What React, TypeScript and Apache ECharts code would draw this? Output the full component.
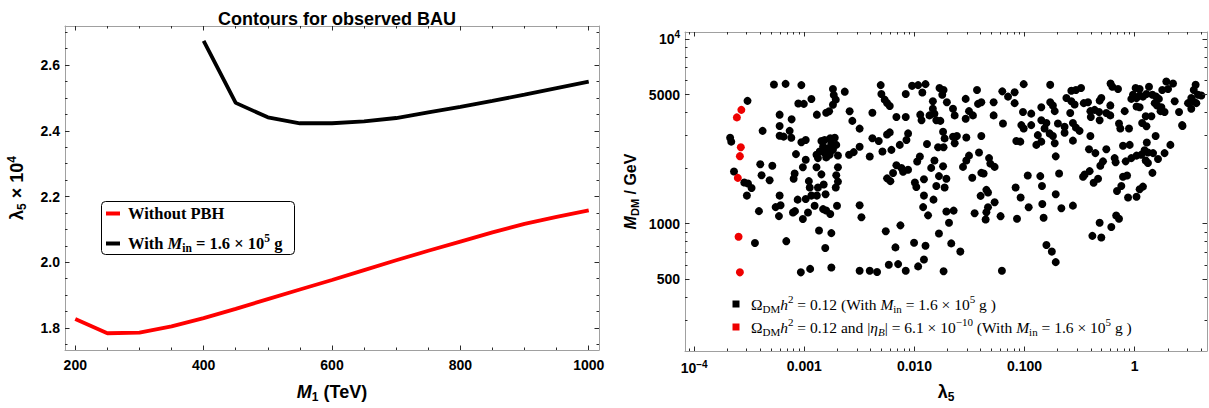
import React, { useEffect, useRef } from "react";
import * as echarts from "echarts";

const SANS = "'Liberation Sans', Arial, Helvetica, sans-serif";
const SERIF = "'Liberation Serif', 'Times New Roman', serif";
const FRAME = "#a0a0a0";
const TICK = "#2a2a2a";

// ---------- Left panel data ----------
const m1NoPBH = [200, 250, 300, 350, 400, 450, 500, 550, 600, 650, 700, 750, 800, 850, 900, 950, 1000];
const lambda5NoPBH = [1.827, 1.784, 1.786, 1.805, 1.83, 1.858, 1.888, 1.917, 1.946, 1.976, 2.006, 2.035, 2.063, 2.091, 2.117, 2.138, 2.158];
const m1PBH = [400, 450, 500, 550, 600, 650, 700, 750, 800, 850, 900, 950, 1000];
const lambda5PBH = [2.674, 2.485, 2.441, 2.423, 2.423, 2.429, 2.439, 2.456, 2.473, 2.491, 2.51, 2.53, 2.55];

const leftXMajor = [200, 400, 600, 800, 1000];
const leftXMinor = [250, 300, 350, 450, 500, 550, 650, 700, 750, 850, 900, 950];
const leftYMajor = [1.8, 2.0, 2.2, 2.4, 2.6];
const leftYMinor = [1.75, 1.85, 1.9, 1.95, 2.05, 2.1, 2.15, 2.25, 2.3, 2.35, 2.45, 2.5, 2.55, 2.65, 2.7];

// ---------- Right panel data: [lambda5, M_DM (GeV)] ----------
const redPoints: [number, number][] = [
  [2.68e-4, 4130], [2.44e-4, 3760], [2.65e-4, 2590], [2.6e-4, 2320], [2.49e-4, 1770], [2.53e-4, 850], [2.6e-4, 546],
];

const blackLambdaBelow1e3: [number, number][] = [
  [5.3e-4, 5660], [6.76e-4, 5710], [8.82e-4, 4470], [3.05e-4, 4620], [5.97e-4, 3890], [7.67e-4, 3670], [5.97e-4, 3380],
  [4.18e-4, 3180], [7.36e-4, 3180], [5.97e-4, 2990], [6.49e-4, 2960], [7.62e-4, 2920], [2.12e-4, 2920], [2.17e-4, 2780],
  [8.4e-4, 2380], [3.98e-4, 2100], [5.12e-4, 2060], [2.3e-4, 1915], [8.17e-4, 1870], [8.0e-4, 1750], [4.09e-4, 1830],
  [4.84e-4, 1720], [2.85e-4, 1670], [3.08e-4, 1650], [3.32e-4, 1560], [3.01e-4, 1420], [5.97e-4, 1420], [8.7e-4, 1350],
  [3.87e-4, 1170], [5.49e-4, 1230], [6.09e-4, 1260], [5.88e-4, 1100], [7.89e-4, 1150], [8.23e-4, 1170], [3.56e-4, 786],
  [6.86e-4, 805], [9.4e-4, 5620], [9.9e-4, 4450], [9.4e-4, 2760], [9.7e-4, 2020], [9.7e-4, 1060], [9.3e-4, 546],
];

const blackLambda1e3to1e2: [number, number][] = [
  [1.82e-3, 5350], [2.33e-3, 5180], [1.85e-3, 4970], [1.16e-3, 4730], [1.93e-3, 4690], [4.94e-3, 5620], [5.01e-3, 5030],
  [8.34e-3, 5030], [9.52e-3, 5570], [1.82e-3, 4400], [1.68e-3, 4060], [1.58e-3, 3980], [1.3e-3, 3890], [2.58e-3, 4060],
  [2.73e-3, 3600], [4.15e-3, 3980], [5.37e-3, 4690], [5.64e-3, 4500], [5.97e-3, 4330], [6.86e-3, 3780], [8.34e-3, 3780],
  [3.18e-3, 3270], [1.03e-3, 2840], [1.43e-3, 2800], [1.53e-3, 2840], [1.72e-3, 2900], [1.89e-3, 2920], [1.76e-3, 2720],
  [1.95e-3, 2670], [1.48e-3, 2610], [1.64e-3, 2560], [1.82e-3, 2510], [1.38e-3, 2460], [1.53e-3, 2410], [1.29e-3, 2360],
  [1.7e-3, 2360], [2.02e-3, 2340], [1.33e-3, 2265], [1.58e-3, 2285], [2.55e-3, 2360], [2.81e-3, 2440], [3.18e-3, 2610],
  [3.93e-3, 2310], [4.15e-3, 2900], [4.74e-3, 2800], [5.12e-3, 2460], [5.97e-3, 3120], [5.64e-3, 3040], [6.18e-3, 2510],
  [7.36e-3, 2670], [8.46e-3, 2840], [8.76e-3, 3080], [1.03e-3, 2220], [1.29e-3, 2020], [1.43e-3, 1850], [1.5e-3, 1630],
  [2.02e-3, 2020], [1.95e-3, 1830], [2.02e-3, 1690], [1.1e-3, 1700], [1.12e-3, 1570], [1.16e-3, 1420], [1.03e-3, 1360],
  [1.33e-3, 1570], [1.3e-3, 1420], [1.93e-3, 1570], [1.56e-3, 1445], [6.86e-3, 2070], [7.62e-3, 2000], [8.76e-3, 1960],
  [6.4e-3, 1880], [7.89e-3, 1910], [5.64e-3, 1760], [6.05e-3, 1700], [1.24e-3, 1250], [1.48e-3, 1200], [1.58e-3, 1180],
  [1.72e-3, 1130], [1.98e-3, 1250], [1.08e-3, 1150], [3.18e-3, 1260], [3.3e-3, 1085], [1.36e-3, 920], [1.76e-3, 890],
  [1.55e-3, 740], [5.49e-3, 910], [7.46e-3, 980], [6.72e-3, 745], [9.93e-3, 790], [1.13e-3, 570], [1.76e-3, 580],
  [3.18e-3, 557], [3.93e-3, 557], [4.58e-3, 548], [5.85e-3, 600], [7.11e-3, 605], [8.34e-3, 557],
];

const blackLambda1e2to1e1: [number, number][] = [
  [1.08e-2, 5620], [1.18e-2, 5130], [1.13e-2, 3890], [1.16e-2, 3630], [1.12e-2, 2310], [1.06e-2, 2170], [1.01e-2, 1670],
  [1.04e-2, 1580], [1.22e-2, 1740], [1.22e-2, 1420], [1.2e-2, 1230], [1.22e-2, 640], [1.08e-2, 588],
  [1.26e-2, 5690], [1.69e-2, 5420], [1.84e-2, 5285], [1.79e-2, 4990], [1.47e-2, 4600], [1.97e-2, 4540], [2.24e-2, 4185],
  [2.32e-2, 3855], [1.47e-2, 4185], [1.52e-2, 3940], [1.37e-2, 3855], [1.58e-2, 3630], [1.72e-2, 3600], [2.92e-2, 4735],
  [3.7e-2, 5285], [3.78e-2, 4450], [4.05e-2, 4540], [3.13e-2, 4065], [3.4e-2, 3855], [2.92e-2, 3700], [5.24e-2, 4540],
  [6.28e-2, 5200], [7.08e-2, 4870], [8.13e-2, 5140], [8.13e-2, 4490], [9.82e-2, 5690], [5.24e-2, 3855], [6.37e-2, 3485],
  [9.68e-2, 4020], [9.35e-2, 3415], [9.82e-2, 3275], [1.3e-2, 2700], [1.82e-2, 3145], [1.88e-2, 2895], [1.64e-2, 2595],
  [1.84e-2, 2595], [2.24e-2, 2955], [2.43e-2, 2980], [2.32e-2, 2725], [2.96e-2, 2930], [4.05e-2, 2980], [8.42e-2, 2805],
  [9.15e-2, 2780], [1.52e-2, 2200], [1.42e-2, 2005], [1.82e-2, 2045], [3.13e-2, 2335], [2.96e-2, 2200], [2.76e-2, 2030],
  [3.86e-2, 2430], [4.76e-2, 2265], [4.89e-2, 2115], [5.35e-2, 2030], [1.67e-2, 1810], [1.95e-2, 1750], [1.58e-2, 1600],
  [1.88e-2, 1570], [3.35e-2, 1775], [4.05e-2, 1885], [4.25e-2, 1870], [1.49e-2, 1350], [1.33e-2, 1110], [1.95e-2, 1164],
  [2.27e-2, 1178], [2.06e-2, 1013], [3.52e-2, 1140], [4.5e-2, 1525], [4.66e-2, 1475], [3.99e-2, 1415], [5.35e-2, 1306],
  [4.66e-2, 1228], [4.5e-2, 1154], [4.43e-2, 1054], [6.06e-2, 1099], [8.3e-2, 1570], [9.22e-2, 1388], [8.54e-2, 1064],
  [1.67e-2, 885], [1.26e-2, 760], [2.16e-2, 783], [2.61e-2, 707], [1.84e-2, 553], [6.23e-2, 557],
];

const blackLambda1e1to1: [number, number][] = [
  [0.115, 3940], [0.142, 4270], [0.115, 3415], [0.142, 3630], [0.132, 3015], [0.128, 2670], [0.142, 2780], [0.107, 1825],
  [0.139, 1810], [0.144, 1600], [0.109, 1228], [0.145, 1279], [0.149, 1077],
  [0.171, 5640], [0.266, 5240], [0.293, 5285], [0.326, 5420], [0.604, 5730], [0.627, 5505], [0.706, 5350], [0.966, 4990],
  [0.933, 4735], [0.24, 4790], [0.266, 4600], [0.285, 4415], [0.345, 4490], [0.377, 4540], [0.498, 4790], [0.481, 4635],
  [0.171, 4540], [0.181, 4365], [0.601, 4365], [0.188, 4065], [0.26, 3970], [0.396, 4065], [0.433, 4130], [0.475, 4020],
  [0.4, 3775], [0.481, 3630], [0.553, 3970], [0.601, 3855], [0.812, 4065], [0.158, 3510], [0.201, 3485], [0.231, 3345],
  [0.231, 3105], [0.275, 3510], [0.293, 3310], [0.316, 3180], [0.152, 3275], [0.169, 3080], [0.181, 2980], [0.188, 2725],
  [0.275, 2815], [0.396, 2980], [0.721, 3485], [0.741, 3275], [0.889, 3275], [0.385, 2530], [0.44, 2410], [0.553, 2530],
  [0.784, 2640], [0.902, 2670], [0.658, 2265], [0.672, 2150], [0.829, 2175], [0.933, 2265], [0.516, 2175], [0.488, 2060],
  [0.192, 2315], [0.206, 1870], [0.39, 1925], [0.352, 1845], [0.34, 1795], [0.465, 1750], [0.424, 1667], [0.784, 1795],
  [0.853, 1825], [0.192, 1445], [0.216, 1213], [0.275, 1253], [0.757, 1600], [0.691, 1505], [0.871, 1388], [0.68, 1109],
  [0.721, 1064], [0.614, 960], [0.481, 1013], [0.413, 860], [0.498, 843], [0.158, 767], [0.177, 707], [0.192, 620],
];

const blackLambdaAbove1: [number, number][] = [
  [1.02, 5420], [1.11, 5350], [1.35, 5505], [1.78, 5285], [1.04, 4790], [1.11, 4935], [1.19, 4870], [1.28, 5035],
  [1.45, 4990], [1.57, 4870], [1.66, 4735], [1.52, 4490], [1.6, 4365], [1.04, 4305], [1.11, 4270], [1.75, 4270],
  [1.42, 3810], [1.26, 3810], [1.17, 3510], [1.28, 3365], [1.72, 4065], [1.55, 2980], [1.29, 2750], [1.04, 2335],
  [1.15, 2360], [1.23, 2495], [1.32, 2430], [1.47, 2410], [1.26, 2200], [1.32, 2130], [1.63, 2240], [1.45, 1885],
  [1.11, 1537], [1.19, 1588], [1.04, 1400],
  [1.94, 5875], [2.23, 5730], [2.01, 5350], [3.58, 5640], [3.44, 5285], [4.03, 4935], [3.76, 4990], [3.27, 4790],
  [3.05, 4490], [3.39, 4600], [3.63, 4490], [2.31, 4600], [2.53, 4020], [3.27, 4185], [1.87, 4020], [2.7, 3415],
  [2.72, 3380], [2.11, 2670], [1.87, 2410],
];

const blackPoints = [
  ...blackLambdaBelow1e3, ...blackLambda1e3to1e2, ...blackLambda1e2to1e1, ...blackLambda1e1to1, ...blackLambdaAbove1,
];

const rightXMajor = [1e-4, 1e-3, 1e-2, 1e-1, 1];
const rightXMinor = [
  9e-5, 2e-4, 3e-4, 4e-4, 5e-4, 6e-4, 7e-4, 8e-4, 9e-4, 2e-3, 3e-3, 4e-3, 5e-3, 6e-3, 7e-3, 8e-3, 9e-3,
  0.02, 0.03, 0.04, 0.05, 0.06, 0.07, 0.08, 0.09, 0.2, 0.3, 0.4, 0.5, 0.6, 0.7, 0.8, 0.9, 2, 3, 4,
];
const rightYMajor = [500, 1000, 5000, 10000];
const rightYMinor = [300, 400, 600, 700, 800, 900, 2000, 3000, 4000, 6000, 7000, 8000, 9000];
const rightXLabels = ["0.001", "0.010", "0.100", "1"];

// ---------- styling helpers ----------
const frameLine = { color: FRAME, width: 1 };
const tickLine = { color: TICK, width: 1 };
const labelRich = {
  b: { fontFamily: SANS, fontWeight: "bold", fontSize: 14, color: "#000", lineHeight: 18 },
  sup: { fontFamily: SANS, fontWeight: "bold", fontSize: 10, color: "#000", verticalAlign: "top", lineHeight: 10 },
};
const nameRich = {
  b: { fontFamily: SANS, fontWeight: "bold", fontSize: 18, color: "#000", lineHeight: 22 },
  i: { fontFamily: SANS, fontWeight: "bold", fontStyle: "italic", fontSize: 18, color: "#000", lineHeight: 22 },
  sub: { fontFamily: SANS, fontWeight: "bold", fontSize: 12, color: "#000", verticalAlign: "bottom", lineHeight: 12 },
  sup: { fontFamily: SANS, fontWeight: "bold", fontSize: 12, color: "#000", verticalAlign: "top", lineHeight: 12 },
};
const nameRichSmall = {
  b: { fontFamily: SANS, fontWeight: "bold", fontSize: 16, color: "#000", lineHeight: 20 },
  i: { fontFamily: SANS, fontWeight: "bold", fontStyle: "italic", fontSize: 16, color: "#000", lineHeight: 20 },
  sub: { fontFamily: SANS, fontWeight: "bold", fontSize: 11, color: "#000", verticalAlign: "bottom", lineHeight: 11 },
};

function frameAxes(dim: "x" | "y", gridIndex: number, type: string, min: number, max: number,
  major: number[], minor: number[], label: any, nameOpts: any) {
  const base: any = { gridIndex, type, min, max, splitLine: { show: false }, z: 5 };
  if (type === "log") base.logBase = 10;
  const p1 = dim === "x" ? "bottom" : "left";
  const p2 = dim === "x" ? "top" : "right";
  return [
    {
      ...base, position: p1, ...nameOpts,
      axisLine: { show: true, onZero: false, lineStyle: frameLine },
      axisTick: { show: true, inside: true, length: 4.5, customValues: major, lineStyle: tickLine },
      axisLabel: { ...label, customValues: major },
    },
    {
      ...base, position: p1,
      axisLine: { show: false, onZero: false },
      axisTick: { show: true, inside: true, length: 2.5, customValues: minor, lineStyle: tickLine },
      axisLabel: { show: false },
    },
    {
      ...base, position: p2,
      axisLine: { show: true, onZero: false, lineStyle: frameLine },
      axisTick: { show: true, inside: true, length: 4.5, customValues: major, lineStyle: tickLine },
      axisLabel: { show: false },
    },
    {
      ...base, position: p2,
      axisLine: { show: false, onZero: false },
      axisTick: { show: true, inside: true, length: 2.5, customValues: minor, lineStyle: tickLine },
      axisLabel: { show: false },
    },
  ];
}

const tickLabel = { show: true, fontFamily: SANS, fontWeight: "bold", fontSize: 14, color: "#000", margin: 8 };

const legendRichLeft = {
  b: { fontFamily: SERIF, fontWeight: "bold", fontSize: 16.5, fill: "#000", lineHeight: 22 },
  i: { fontFamily: SERIF, fontWeight: "bold", fontStyle: "italic", fontSize: 16.5, fill: "#000", lineHeight: 22 },
  sub: { fontFamily: SERIF, fontWeight: "bold", fontSize: 11.5, fill: "#000", verticalAlign: "bottom", lineHeight: 12 },
  sup: { fontFamily: SERIF, fontWeight: "bold", fontSize: 11.5, fill: "#000", verticalAlign: "top", lineHeight: 12 },
};
const legendRichRight = {
  n: { fontFamily: SERIF, fontSize: 15.5, fill: "#000", lineHeight: 21 },
  i: { fontFamily: SERIF, fontStyle: "italic", fontSize: 15.5, fill: "#000", lineHeight: 21 },
  sub: { fontFamily: SERIF, fontSize: 11, fill: "#000", verticalAlign: "bottom", lineHeight: 11 },
  subi: { fontFamily: SERIF, fontStyle: "italic", fontSize: 11, fill: "#000", verticalAlign: "bottom", lineHeight: 11 },
  sup: { fontFamily: SERIF, fontSize: 11, fill: "#000", verticalAlign: "top", lineHeight: 11 },
};

function textEl(x: number, y: number, text: string, rich: any) {
  return {
    type: "text", x, y, z: 102,
    style: { text, rich, align: "left", verticalAlign: "middle", textAlign: "left", textVerticalAlign: "middle" },
  };
}

export default function App() {
  const ref = useRef<HTMLDivElement>(null);
  useEffect(() => {
    document.body.style.margin = "0";
    const chart = echarts.init(ref.current!, undefined, { renderer: "svg", width: 1209, height: 408 });
    const xAxis = [
      ...frameAxes("x", 0, "value", 184, 1016, leftXMajor, leftXMinor,
        { ...tickLabel, formatter: (v: number) => String(Math.round(v)) },
        { name: "{i|M}{sub|1}{b| (TeV)}", nameLocation: "middle", nameGap: 31, nameTextStyle: { rich: nameRich } }),
      ...frameAxes("x", 1, "log", 8.25e-5, 4.54, rightXMajor, rightXMinor,
        {
          ...tickLabel, rich: labelRich,
          formatter: (v: number) => {
            const e = Math.round(Math.log10(v));
            return e <= -4 ? "{b|10}{sup|−4}" : rightXLabels[e + 3];
          },
        },
        { name: "{b|λ}{sub|5}", nameLocation: "middle", nameGap: 30, nameTextStyle: { rich: nameRich } }),
    ];
    const yAxis = [
      ...frameAxes("y", 0, "value", 1.733, 2.719, leftYMajor, leftYMinor,
        { ...tickLabel, margin: 5, formatter: (v: number) => v.toFixed(1) },
        { name: "{b|λ}{sub|5}{b| × 10}{sup|4}", nameLocation: "middle", nameGap: 37, nameTextStyle: { rich: nameRich } }),
      ...frameAxes("y", 1, "log", 205, 10890, rightYMajor, rightYMinor,
        {
          ...tickLabel, margin: 5, rich: labelRich,
          formatter: (v: number) => (v > 9000 ? "{b|10}{sup|4}" : String(Math.round(v))),
        },
        { name: "{i|M}{sub|DM}{b| / GeV}", nameLocation: "middle", nameGap: 45, nameTextStyle: { rich: nameRichSmall } }),
    ];

    chart.setOption({
      animation: false,
      backgroundColor: "#fff",
      title: {
        text: "Contours for observed BAU", left: 332, top: 5, textAlign: "center",
        textStyle: { fontFamily: SANS, fontWeight: "bold", fontSize: 18, color: "#000" },
      },
      grid: [
        { left: 65, top: 26, width: 534, height: 331 },
        { left: 685, top: 32, width: 522, height: 324 },
      ],
      xAxis,
      yAxis,
      series: [
        {
          name: "Without PBH", type: "line", xAxisIndex: 0, yAxisIndex: 0, symbol: "none",
          data: m1NoPBH.map((m, i) => [m, lambda5NoPBH[i]]),
          lineStyle: { color: "#ff0000", width: 3.8 }, itemStyle: { color: "#ff0000" },
        },
        {
          name: "With PBH", type: "line", xAxisIndex: 0, yAxisIndex: 0, symbol: "none",
          data: m1PBH.map((m, i) => [m, lambda5PBH[i]]),
          lineStyle: { color: "#000000", width: 3.8 }, itemStyle: { color: "#000000" },
        },
        {
          name: "Omega h2", type: "scatter", xAxisIndex: 4, yAxisIndex: 4, symbolSize: 8,
          data: blackPoints, itemStyle: { color: "#000000", opacity: 1 },
        },
        {
          name: "Omega h2 and etaB", type: "scatter", xAxisIndex: 4, yAxisIndex: 4, symbolSize: 8,
          data: redPoints, itemStyle: { color: "#ee0000", opacity: 1 }, z: 3,
        },
      ],
      graphic: [
        { type: "rect", z: 100, shape: { x: 101.5, y: 201.5, width: 193, height: 53, r: 4 }, style: { fill: "#fff", stroke: "#000", lineWidth: 1 } },
        { type: "line", z: 101, shape: { x1: 106, y1: 213.5, x2: 120, y2: 213.5 }, style: { stroke: "#ff0000", lineWidth: 4 } },
        { type: "line", z: 101, shape: { x1: 106, y1: 243.5, x2: 120, y2: 243.5 }, style: { stroke: "#000000", lineWidth: 4 } },
        textEl(128, 213, "{b|Without PBH}", legendRichLeft),
        textEl(128, 243, "{b|With }{i|M}{sub|in}{b| = 1.6 × 10}{sup|5}{b| g}", legendRichLeft),
        { type: "rect", z: 101, shape: { x: 732.5, y: 300.5, width: 7, height: 7 }, style: { fill: "#000" } },
        { type: "rect", z: 101, shape: { x: 732.5, y: 323.5, width: 7, height: 7 }, style: { fill: "#ee0000" } },
        textEl(751, 304, "{n|Ω}{sub|DM}{i|h}{sup|2}{n| = 0.12 (With }{i|M}{sub|in}{n| = 1.6 × 10}{sup|5}{n| g )}", legendRichRight),
        textEl(751, 327, "{n|Ω}{sub|DM}{i|h}{sup|2}{n| = 0.12 and |}{i|η}{subi|B}{n|| = 6.1 × 10}{sup|−10}{n| (With }{i|M}{sub|in}{n| = 1.6 × 10}{sup|5}{n| g )}", legendRichRight),
      ],
    });
    return () => chart.dispose();
  }, []);
  return <div ref={ref} style={{ width: 1209, height: 408, background: "#fff" }} />;
}
